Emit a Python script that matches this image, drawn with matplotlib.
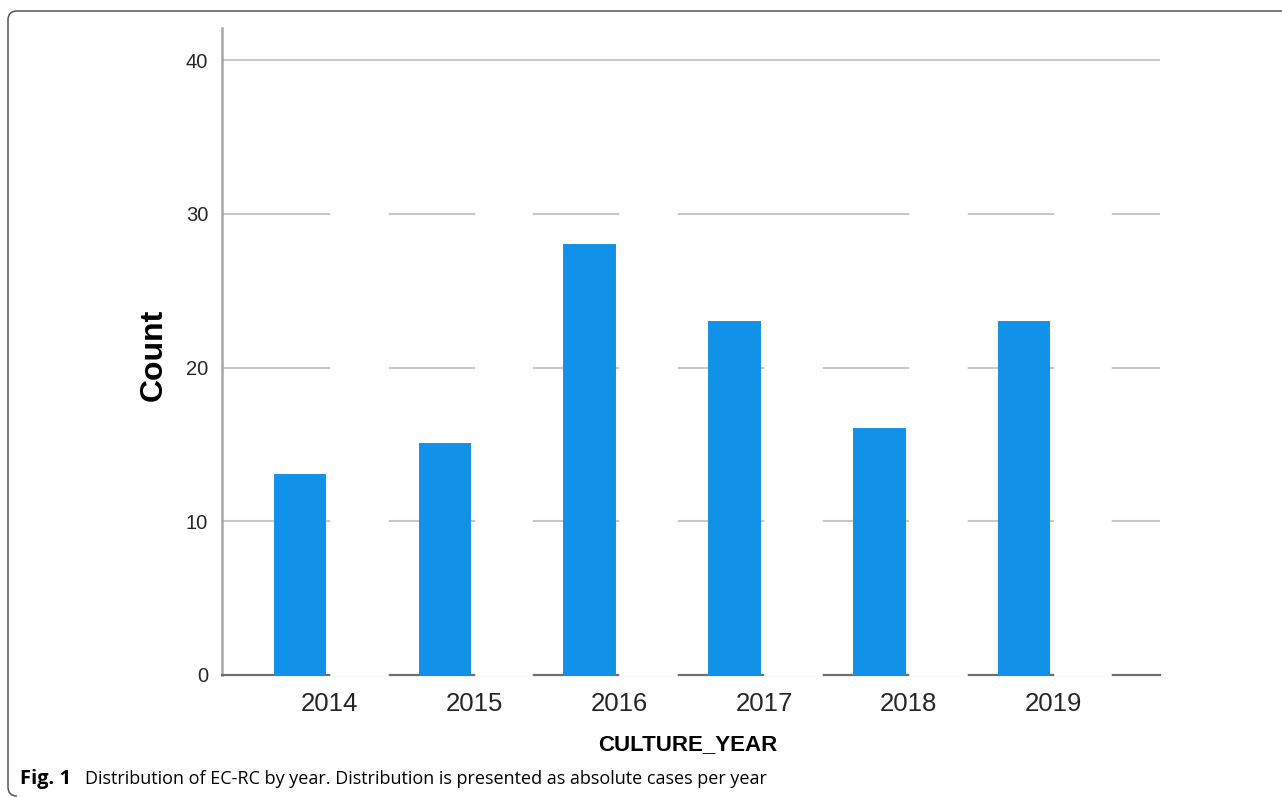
import matplotlib
matplotlib.use('Agg')
import matplotlib.pyplot as plt
import numpy as np
from matplotlib.path import Path
from matplotlib.patches import PathPatch
from matplotlib.transforms import IdentityTransform

# ---- data ----
years = ['2014', '2015', '2016', '2017', '2018', '2019']
counts = [13, 15, 28, 23, 16, 23]
# empty (white) second slot of each cluster; in the original it hides the gridlines
blank_slot = [35, 35, 35, 25, 35, 35]
yticks = [0, 10, 20, 30, 40]
caption_bold = 'Fig. 1'
caption_text = 'Distribution of EC-RC by year. Distribution is presented as absolute cases per year'

W, H = 1282, 797
fig = plt.figure(figsize=(W / 100, H / 100), dpi=100)
fig.patch.set_facecolor('white')

ax = fig.add_axes([222 / W, 1 - 675 / H, 938 / W, 647 / H])
x = np.arange(len(years))
blank = ax.bar(x + 0.2, blank_slot, width=0.385, color='white', edgecolor='white',
               linewidth=1.8, zorder=3)
blue = ax.bar(x - 0.205, counts, width=0.35, color='#1191e8', edgecolor='#1191e8',
              linewidth=1.4, zorder=3.2)
for p in list(blank) + list(blue):
    p.set_clip_on(False)

ax.set_xlim(-0.745, 5.735)
ax.set_ylim(0, 42.1)
ax.set_yticks(yticks)
ax.set_xticks(x)
ax.set_xticklabels(years)

ax.set_axisbelow(True)
ax.yaxis.grid(True, color='#c8c8c8', linewidth=1.5)
ax.xaxis.grid(False)

for s in ['top', 'right']:
    ax.spines[s].set_visible(False)
ax.spines['left'].set_color('#a6a6a6')
ax.spines['left'].set_linewidth(1.8)
ax.spines['bottom'].set_color('#6e6e6e')
ax.spines['bottom'].set_linewidth(1.6)

ax.tick_params(axis='y', length=0, pad=10, labelsize=14.5, labelcolor='#262626')
ax.tick_params(axis='x', length=0, pad=12, labelsize=18.5, labelcolor='#262626')
for lab in ax.get_xticklabels() + ax.get_yticklabels():
    lab.set_family('Liberation Sans')

# axis titles
fig.text(154 / W, 1 - 355 / H, 'Count', rotation=90, ha='center', va='center',
         family='Liberation Sans', weight='bold', size=23, color='black')
fig.text(688 / W, 1 - 745 / H, 'CULTURE_YEAR', ha='center', va='center',
         family='Liberation Sans', weight='bold', size=16, color='black')

# caption
fig.text(20 / W, 1 - 779 / H, caption_bold, ha='left', va='center',
         family='Open Sans', weight='bold', size=14.5, color='black')
fig.text(85 / W, 1 - 779 / H, caption_text, ha='left', va='center',
         family='Open Sans', size=13, color='black')

# figure frame (rounded, open to the right)
r = 9
top = H - 11
verts = [(W + 10, top), (8 + r, top), (8, top), (8, top - r), (8, 1 + r), (8, 1), (8 + r, 1)]
codes = [Path.MOVETO, Path.LINETO, Path.CURVE3, Path.CURVE3, Path.LINETO, Path.CURVE3, Path.CURVE3]
frame = PathPatch(Path(verts, codes), transform=IdentityTransform(), fill=False,
                  edgecolor='#555555', linewidth=1.1)
fig.patches.append(frame)

fig.savefig('out.png', dpi=100)
